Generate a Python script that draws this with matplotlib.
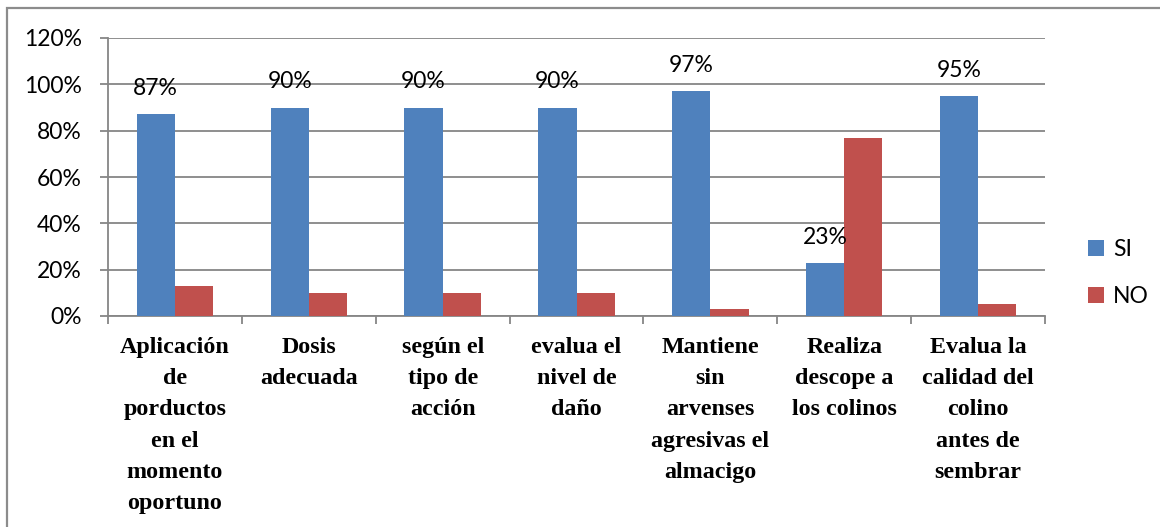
import matplotlib
matplotlib.use("Agg")
import matplotlib.pyplot as plt
from matplotlib.patches import Rectangle
import numpy as np

categories = [
    "Aplicación\nde\nporductos\nen el\nmomento\noportuno",
    "Dosis\nadecuada",
    "según el\ntipo de\nacción",
    "evalua el\nnivel de\ndaño",
    "Mantiene\nsin\narvenses\nagresivas el\nalmacigo",
    "Realiza\ndescope a\nlos colinos",
    "Evalua la\ncalidad del\ncolino\nantes de\nsembrar",
]
si_values = [87, 90, 90, 90, 97, 23, 95]
no_values = [13, 10, 10, 10, 3, 77, 5]
yticks = [0, 20, 40, 60, 80, 100, 120]
series_names = ["SI", "NO"]

BLUE = "#4F81BD"
RED = "#C0504D"
GRID = "#868686"
W, H = 1160, 527

fig = plt.figure(figsize=(W / 100, H / 100), dpi=100)
ax = fig.add_axes([108 / W, 1 - 316 / H, (1045 - 108) / W, (316 - 38) / H])

# outer frame
fig.patches.append(Rectangle((7 / W, -0.1), 1.2, 1 - 8 / H + 0.1, transform=fig.transFigure,
                             fill=False, edgecolor="#8c8c8c", linewidth=1.6, zorder=0))

x = np.arange(len(categories))
bw = 0.286
ax.bar(x - bw / 2, si_values, bw, color=BLUE, label=series_names[0], zorder=3)
ax.bar(x + bw / 2, no_values, bw, color=RED, label=series_names[1], zorder=3)

tick_font = "Lato"
for xi, v in zip(x, si_values):
    ax.annotate(f"{v}%", (xi - bw / 2, v), xytext=(0, 18.5), textcoords="offset points",
                ha="center", va="center", fontsize=16.5, family=tick_font, color="black", zorder=4)

ax.set_xlim(-0.5, len(categories) - 0.5)
ax.set_ylim(0, 120)
ax.set_yticks(yticks)
ax.set_yticklabels([f"{t}%" for t in yticks], fontsize=16.5, family=tick_font)
ax.yaxis.grid(True, color=GRID, linewidth=1.3, zorder=0)
ax.set_axisbelow(True)

ax.set_xticks(x)
ax.set_xticklabels(categories, fontsize=17.3, family="Liberation Serif", fontweight="bold",
                   linespacing=1.64)
ax.set_xticks(np.arange(len(categories) + 1) - 0.5, minor=True)
ax.tick_params(axis="x", which="major", length=0, pad=15)
ax.tick_params(axis="x", which="minor", length=6, color=GRID, width=1.3, direction="out")
ax.tick_params(axis="y", length=6, color=GRID, width=1.3, pad=13)

for s in ["top", "right"]:
    ax.spines[s].set_visible(False)
for s in ["left", "bottom"]:
    ax.spines[s].set_color(GRID)
    ax.spines[s].set_linewidth(1.3)

ax.legend(loc="center left", bbox_to_anchor=(1067 / W, 1 - 273 / H), bbox_transform=fig.transFigure,
          frameon=False, prop={"family": tick_font, "size": 16.5}, handlelength=0.7,
          handleheight=0.7, handletextpad=0.4, labelspacing=1.15)

fig.savefig("out.png", dpi=100)
